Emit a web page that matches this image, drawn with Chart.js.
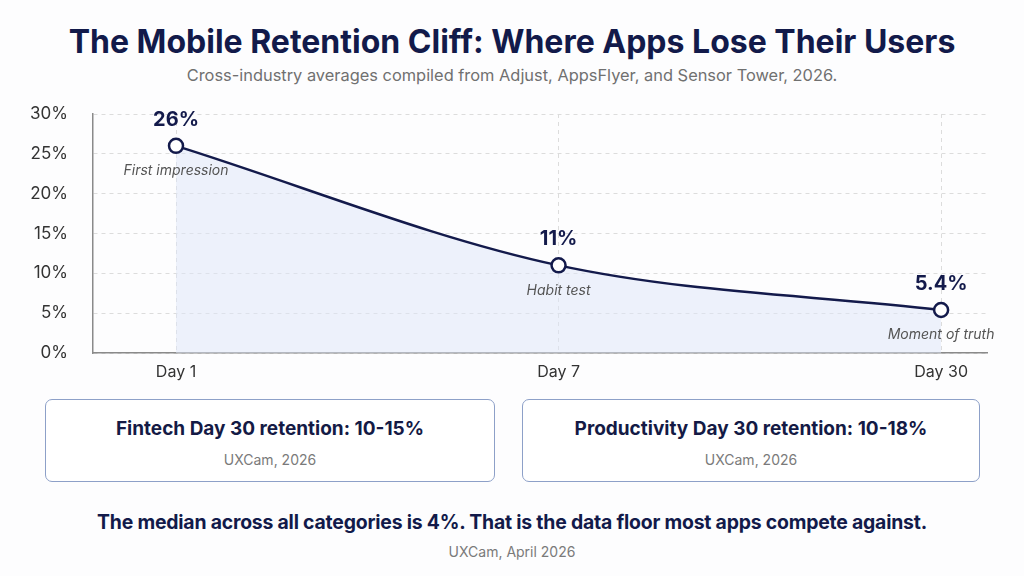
<!DOCTYPE html>
<html>
<head>
<meta charset="utf-8">
<script src="https://cdn.jsdelivr.net/npm/chart.js@4.4.1/dist/chart.umd.min.js"></script>
<style>
  html, body { margin: 0; padding: 0; background: #fdfdfe; }
  body { width: 1024px; height: 576px; position: relative; overflow: hidden; font-family: Inter, "Noto Sans", sans-serif; }
  .title { position: absolute; top: 22px; left: 0; width: 1024px; text-align: center; font-size: 32px; font-weight: 700; color: #121a4a; }
  .subtitle { position: absolute; top: 65px; left: 0; width: 1024px; text-align: center; font-size: 16.4px; color: #707070; }
  .chart-wrap { position: absolute; top: 100px; left: 0; width: 1024px; height: 288px; }
  .card { position: absolute; top: 399px; height: 83px; border: 1.5px solid #8da0c8; border-radius: 7px; background: #fff; text-align: center; box-sizing: border-box; }
  .card .head { margin-top: 17px; font-size: 19px; font-weight: 700; color: #141a45; }
  .card .src { margin-top: 11px; font-size: 14px; color: #7a7a7a; }
  .footer { position: absolute; top: 510px; left: 0; width: 1024px; text-align: center; font-size: 19.4px; font-weight: 700; color: #121a4a; letter-spacing: -0.2px; }
  .footer-src { position: absolute; top: 543px; left: 0; width: 1024px; text-align: center; font-size: 14px; color: #7a7a7a; }
</style>
</head>
<body>
<div class="title">The Mobile Retention Cliff: Where Apps Lose Their Users</div>
<div class="subtitle">Cross-industry averages compiled from Adjust, AppsFlyer, and Sensor Tower, 2026.</div>
<div class="chart-wrap"><canvas id="retentionChart"></canvas></div>
<div class="card" style="left:45px; width:450px;">
  <div class="head">Fintech Day 30 retention: 10-15%</div>
  <div class="src">UXCam, 2026</div>
</div>
<div class="card" style="left:522px; width:458px;">
  <div class="head">Productivity Day 30 retention: 10-18%</div>
  <div class="src">UXCam, 2026</div>
</div>
<div class="footer">The median across all categories is 4%. That is the data floor most apps compete against.</div>
<div class="footer-src">UXCam, April 2026</div>

<script>
// Data
const days = ['Day 1', 'Day 7', 'Day 30'];
const retention = [26, 11, 5.4];
const valueLabels = ['26%', '11%', '5.4%'];
const notes = ['First impression', 'Habit test', 'Moment of truth'];
const yTicks = [0, 5, 10, 15, 20, 25, 30];

const navy = '#131a4b';

// value labels above each point, notes below
const pointLabels = {
  id: 'pointLabels',
  afterDatasetsDraw(chart) {
    const ctx = chart.ctx;
    const meta = chart.getDatasetMeta(0);
    ctx.save();
    ctx.textAlign = 'center';
    meta.data.forEach((pt, i) => {
      ctx.fillStyle = navy;
      ctx.font = 'bold 20px Inter, sans-serif';
      ctx.textBaseline = 'bottom';
      ctx.fillText(valueLabels[i], pt.x, pt.y - 16);
      ctx.fillStyle = '#555';
      ctx.font = 'italic 14px Inter, sans-serif';
      ctx.textBaseline = 'top';
      ctx.fillText(notes[i], pt.x, pt.y + 18);
    });
    ctx.restore();
  }
};

new Chart(document.getElementById('retentionChart'), {
  type: 'line',
  data: {
    datasets: [{
      data: retention.map((v, i) => ({ x: i, y: v })),
      borderColor: navy,
      borderWidth: 2.5,
      backgroundColor: 'rgba(222, 230, 248, 0.5)',
      fill: 'origin',
      cubicInterpolationMode: 'monotone',
      pointRadius: 7,
      pointBorderWidth: 2.5,
      pointBackgroundColor: '#ffffff',
      pointBorderColor: navy
    }]
  },
  options: {
    responsive: true,
    maintainAspectRatio: false,
    animation: false,
    layout: { padding: { top: 14, right: 37, left: 0, bottom: 0 } },
    plugins: {
      legend: { display: false },
      tooltip: { enabled: false }
    },
    scales: {
      x: {
        type: 'linear',
        min: -0.217,
        max: 2.12,
        afterBuildTicks: axis => { axis.ticks = days.map((d, i) => ({ value: i })); },
        afterFit: axis => { axis.height = 35; },
        ticks: {
          callback: v => days[v],
          color: '#333',
          font: { size: 16, family: 'Inter' },
          padding: 10
        },
        grid: { color: '#dcdcdc', drawTicks: false },
        border: { display: true, color: '#8a8a8a', width: 1.5, dash: [4, 4] }
      },
      y: {
        min: 0,
        max: 30,
        afterBuildTicks: axis => { axis.ticks = yTicks.map(v => ({ value: v })); },
        afterFit: axis => { axis.width = 93; },
        ticks: {
          callback: v => v + '%',
          color: '#333',
          font: { size: 17, family: 'Inter' },
          padding: 0
        },
        grid: { color: '#dcdcdc', drawTicks: true, tickLength: 25, tickColor: 'rgba(0,0,0,0)' },
        border: { display: true, color: '#8a8a8a', width: 1.5, dash: [4, 4] }
      }
    }
  },
  plugins: [pointLabels]
});
</script>
</body>
</html>
